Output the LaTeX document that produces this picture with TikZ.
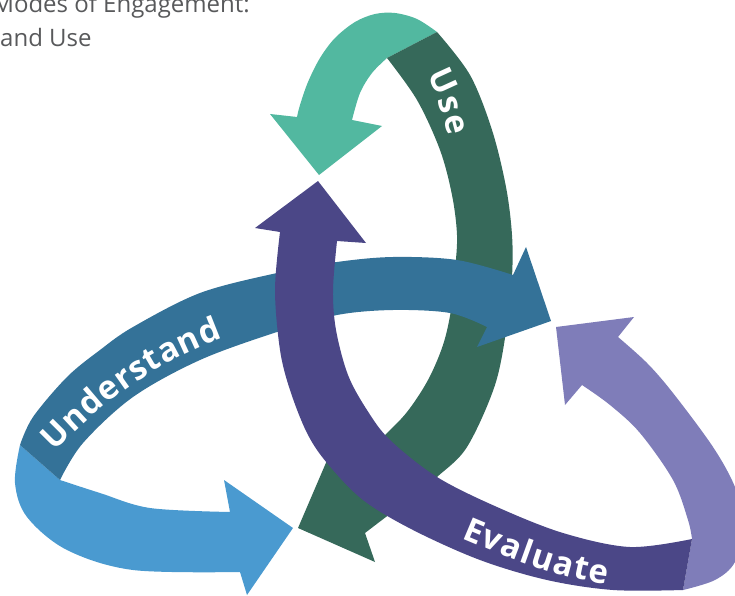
\documentclass[tikz,border=0pt]{standalone}
\usepackage{fontspec}
\setmainfont{Open Sans}
\usetikzlibrary{decorations.text}
\definecolor{dgreen}{HTML}{36695A}
\definecolor{lteal}{HTML}{52B8A0}
\definecolor{steel}{HTML}{347298}
\definecolor{lblue}{HTML}{4A9AD0}
\definecolor{dpurple}{HTML}{4B4787}
\definecolor{lavender}{HTML}{7F7DB9}
\definecolor{headgray}{HTML}{58595B}
\newcommand{\lblfmt}{\bfseries\fontsize{33}{33}\selectfont}
\tikzset{
  headtext/.style={font=\fontsize{24}{24}\selectfont, text=headgray, inner sep=0pt},
  bandlabel/.style={decorate, decoration={text along path, text color=white,
      text align={fit to path}}},
  every plot/.style={smooth, tension=0.55},
}
\begin{document}
\begin{tikzpicture}[x=1pt,y=-1pt]
\clip (0,0) rectangle (735,596);
% ---------- Use ribbon ----------
\fill[lteal] plot coordinates {(437,32) (417,19) (395,13) (375,14) (355,22) (335,38) (320,58) (308,82) (300,105) (297,117)}
  -- (270,114) -- (319,175) -- (382,126) -- (352,120)
  -- plot coordinates {(352,120) (360,93) (372,73) (387,58)} -- cycle;
\fill[dgreen] plot coordinates {(437,32) (470,75) (492,130) (506,187) (512,235) (512,277) (507,325) (495,385) (467,447) (437,477) (410,500) (390,514) (365,533)}
  -- (375,562) -- (298,528) -- (331,451) -- (341,478)
  -- plot coordinates {(341,478) (383,437) (407,412) (428,380) (443,345) (451,310) (455,270) (457,235) (452,195) (440,150) (417,100) (387,58)} -- cycle;
% ---------- Understand ribbon ----------
\fill[lblue] (20,445) -- plot coordinates {(20,445) (15,483) (27,517) (67,550) (133,570) (240,572)}
  -- (247,595) -- (293,528) -- (224,480) -- (230,512)
  -- plot coordinates {(230,512) (150,508) (100,493) (60,480)} -- cycle;
\fill[steel] plot coordinates {(20,445) (33,417) (67,377) (100,350) (133,327) (200,293) (277,273) (337,262) (393,257) (457,260) (513,275)}
  -- (526,247) -- (551,321) -- (477,347) -- (487,327)
  -- plot coordinates {(487,327) (450,313) (393,310) (337,315) (277,332) (200,360) (133,397) (83,443) (60,480)} -- cycle;
% ---------- Evaluate ribbon ----------
\fill[lavender] plot coordinates {(683,590) (715,580) (735,562) (745,525) (735,487) (713,447) (673,393) (647,363) (618,337)}
  -- (634,317) -- (556,327) -- (565,405) -- (582,385)
  -- plot coordinates {(582,385) (610,405) (640,433) (673,480) (688,520) (692,539)} -- cycle;
\fill[dpurple] (318,181) -- (366,243) -- (337,241)
  -- plot coordinates {(337,241) (333,290) (336,330) (348,375) (367,410) (390,440) (437,477) (497,507) (563,533) (630,547) (692,539)}
  -- (683,590)
  -- plot coordinates {(683,590) (613,590) (547,580) (480,560) (413,530) (363,500) (327,463) (307,433) (290,390) (280,350) (275,290) (280,232)}
  -- (255,228) -- cycle;
% ---------- labels ----------
\path[bandlabel, decoration={text={|\lblfmt|Use}}]
  (427,75) .. controls (438,98) .. (448,136);
\path[bandlabel, decoration={text={|\lblfmt|Understand}}]
  (55,452) .. controls (100,405) and (150,365) .. (223,338);
\path[bandlabel, decoration={text={|\lblfmt|Evaluate}}]
  (461,538) .. controls (520,563) and (560,578) .. (607,584);
% ---------- heading ----------
\node[headtext, anchor=base east] (head1) at (250,13) {Modes of Engagement:};
\node[headtext, anchor=base west] (head2) at (0,47) {and Use};
\end{tikzpicture}
\end{document}
